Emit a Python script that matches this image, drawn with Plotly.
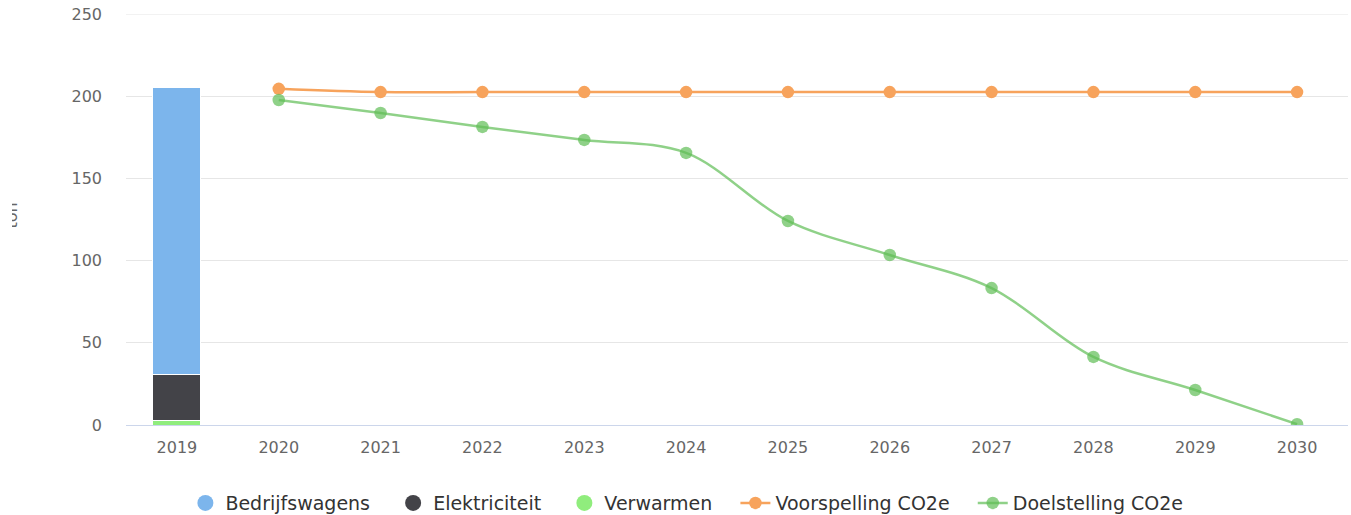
import plotly.graph_objects as go

years = [str(y) for y in range(2019, 2031)]
bar_year = ["2019"]
bedrijfswagens = [174]
elektriciteit = [28]
verwarmen = [3]

line_years = [str(y) for y in range(2020, 2031)]
voorspelling = [204.5, 202.5, 202.5, 202.5, 202.5, 202.5, 202.5, 202.5, 202.5, 202.5, 202.5]
doelstelling = [197.7, 189.8, 181.3, 173.4, 165.5, 124.1, 103.4, 83.3, 41.4, 21.3, 0.5]
y_max = 250

FONT = "DejaVu Sans, Verdana, sans-serif"
PAD = "\u00a0\u00a0\u00a0"
fig = go.Figure()

bar_series = [("Verwarmen", verwarmen, "#90ed7d"),
              ("Elektriciteit", elektriciteit, "#434348"),
              ("Bedrijfswagens", bedrijfswagens, "#7cb5ec")]
for name, vals, col in bar_series:
    fig.add_trace(go.Bar(x=bar_year, y=vals, name=name, marker=dict(color=col, line=dict(color="white", width=1)),
                         width=0.47, showlegend=False))

# legend proxies (circle symbols)
for name, col in [("Bedrijfswagens", "#7cb5ec"), ("Elektriciteit", "#434348"), ("Verwarmen", "#90ed7d")]:
    fig.add_trace(go.Scatter(x=[None], y=[None], mode="markers", name=name + PAD,
                             marker=dict(symbol="circle", size=17, color=col)))

fig.add_trace(go.Scatter(x=line_years, y=voorspelling, name="Voorspelling CO2e" + PAD, mode="lines+markers",
                         line=dict(color="#f7a35c", width=2.5, shape="spline"),
                         marker=dict(color="#f7a35c", size=12.5)))
fig.add_trace(go.Scatter(x=line_years, y=doelstelling, name="Doelstelling CO2e", mode="lines+markers",
                         line=dict(color="rgba(95,190,85,0.7)", width=2.5, shape="spline", smoothing=1.0),
                         marker=dict(color="rgba(95,190,85,0.7)", size=12.5)))

fig.update_layout(
    width=1351, height=515,
    margin=dict(l=126, r=3, t=14, b=90, autoexpand=False),
    barmode="stack",
    plot_bgcolor="white", paper_bgcolor="white",
    font=dict(family=FONT, size=16, color="#666666"),
    xaxis=dict(type="category", categoryorder="array", categoryarray=years, range=[-0.5, 11.5],
               showgrid=False, showline=True, linecolor="#ccd6eb", linewidth=1,
               ticks="", tickfont=dict(size=16, color="#666666"), ticklabelstandoff=8, tickangle=0),
    yaxis=dict(range=[0, y_max], tick0=0, dtick=50, showgrid=True, gridcolor="#e6e6e6", gridwidth=1,
               zeroline=False, showline=False, tickfont=dict(size=16, color="#666666"),
               ticklabelstandoff=23),
    legend=dict(orientation="h", x=0.459, xanchor="center", y=-0.19, yanchor="middle",
                font=dict(size=19, color="#333333"), traceorder="normal"),
    showlegend=True,
)
# top gridline (plotly omits the one on the plot edge)
fig.add_shape(type="line", xref="paper", yref="y", x0=0, x1=1, y0=y_max, y1=y_max,
              line=dict(color="#e6e6e6", width=1), layer="below")
fig.add_annotation(text="ton", textangle=-90, xref="paper", yref="paper", x=-0.0937, y=0.511,
                   xanchor="center", yanchor="middle", showarrow=False,
                   font=dict(size=16, color="#666666", family=FONT))
# white mask reproducing the clipped axis title of the reference
fig.add_annotation(text=" ", xref="paper", yref="paper", x=(0 - 126) / 1222, y=0.511,
                   xanchor="left", yanchor="middle", showarrow=False, width=12, height=50,
                   bgcolor="white", borderpad=0, borderwidth=0)

fig.write_html("out.html", config={"displayModeBar": False},
               post_script="document.body.style.margin='0';")
